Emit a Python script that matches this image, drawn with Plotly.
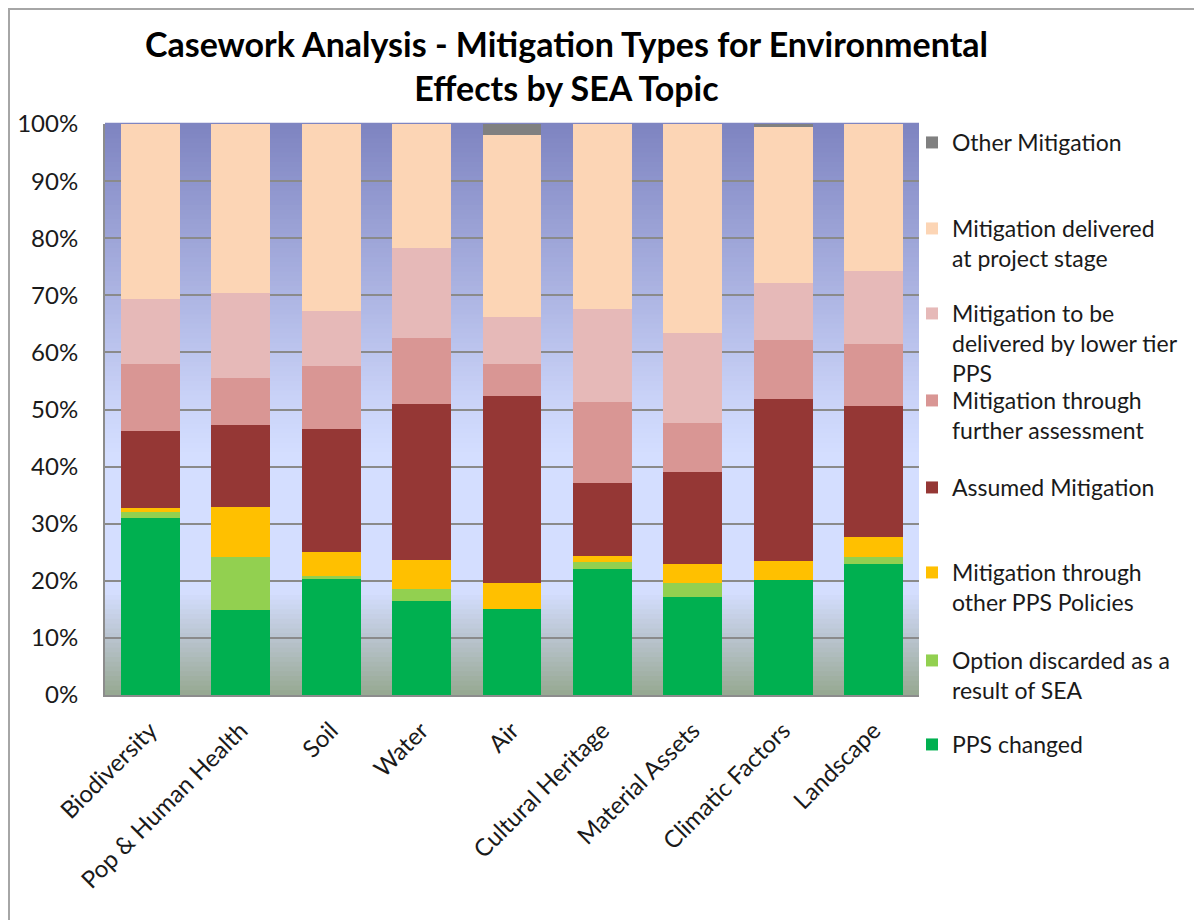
import plotly.graph_objects as go

categories = ["Biodiversity", "Pop & Human Health", "Soil", "Water", "Air",
              "Cultural Heritage", "Material Assets", "Climatic Factors", "Landscape"]

pps_changed        = [31.0, 14.8, 20.3, 16.5, 15.1, 22.0, 17.1, 20.2, 23.0]
option_discarded   = [1.0, 9.3, 0.6, 2.0, 0.0, 1.3, 2.5, 0.0, 1.1]
other_pps_policies = [0.7, 8.9, 4.2, 5.2, 4.5, 1.1, 3.4, 3.2, 3.5]
assumed            = [13.5, 14.2, 21.4, 27.3, 32.8, 12.8, 16.0, 28.4, 23.1]
further_assessment = [11.8, 8.3, 11.1, 11.5, 5.6, 14.2, 8.6, 10.3, 10.7]
lower_tier         = [11.4, 14.9, 9.6, 15.8, 8.2, 16.2, 15.8, 10.0, 12.8]
project_stage      = [30.6, 29.6, 32.8, 21.7, 31.8, 32.4, 36.6, 27.3, 25.8]
other_mitigation   = [0.0, 0.0, 0.0, 0.0, 2.0, 0.0, 0.0, 0.6, 0.0]

series_names = [
    "PPS changed",
    "Option discarded as a<br>result of SEA",
    "Mitigation through<br>other PPS Policies",
    "Assumed Mitigation",
    "Mitigation through<br>further assessment",
    "Mitigation to be<br>delivered by lower tier<br>PPS",
    "Mitigation delivered<br>at project stage",
    "Other Mitigation",
]
series_values = [pps_changed, option_discarded, other_pps_policies, assumed,
                 further_assessment, lower_tier, project_stage, other_mitigation]
series_colors = ["#00B050", "#92D050", "#FFC000", "#953735",
                 "#D99694", "#E6B9B8", "#FCD5B5", "#808080"]
# legend label first-line centre (page pixel y) for each series
legend_pix_y = [744, 660, 572, 487, 400, 313, 228, 142]

OFF = 8  # page body margin offset
W, H = 1202, 920
PL, PR, PT, PB = 105, 919, 124, 695   # plot area in page pixels
ML = PL - OFF
MT = PT - OFF
MR = W - (PR - OFF)
MB = H - (PB - OFF)
plot_w = PR - PL
plot_h = PB - PT

FONT = "Lato, 'Open Sans', 'DejaVu Sans', sans-serif"

def px_to_paper_y(page_y):
    return (PB - page_y) / plot_h

def px_to_paper_x(page_x):
    return (page_x - PL) / plot_w

fig = go.Figure()
for i, (name, vals, col) in enumerate(zip(series_names, series_values, series_colors)):
    lg = "legend" if i == 0 else f"legend{i+1}"
    fig.add_trace(go.Bar(
        x=categories, y=vals, name=name, marker=dict(color=col, line=dict(width=0)),
        legend=lg,
    ))

# background gradient (styling only)
stops = [(0.0, (0x96, 0xA8, 0x90)), (0.10, (0xB9, 0xC4, 0xCF)), (0.18, (0xD4, 0xDE, 0xFF)),
         (0.42, (0xD4, 0xDE, 0xFF)), (0.52, (0xC9, 0xD2, 0xF7)), (1.0, (0x7E, 0x84, 0xC1))]

def grad(t):
    for (a, ca), (b, cb) in zip(stops[:-1], stops[1:]):
        if a <= t <= b:
            f = (t - a) / (b - a)
            return "rgb(%d,%d,%d)" % tuple(round(ca[k] + (cb[k] - ca[k]) * f) for k in range(3))
    return "rgb(%d,%d,%d)" % stops[-1][1]

shapes = []
N = 120
for i in range(N):
    y0 = i / N
    y1 = (i + 1) / N
    shapes.append(dict(type="rect", xref="paper", yref="paper", x0=0, x1=1, y0=y0, y1=y1 + 0.002,
                       fillcolor=grad((y0 + y1) / 2), line=dict(width=0), layer="below"))
# outer chart border
shapes.append(dict(type="rect", xref="paper", yref="paper",
                   x0=px_to_paper_x(OFF + 1), x1=px_to_paper_x(W + 40),
                   y0=px_to_paper_y(H + 40), y1=px_to_paper_y(OFF + 1),
                   line=dict(color="#A6A6A6", width=2), fillcolor="rgba(0,0,0,0)", layer="below"))

layout_legends = {}
for i, py in enumerate(legend_pix_y):
    key = "legend" if i == 0 else f"legend{i+1}"
    layout_legends[key] = dict(
        x=px_to_paper_x(952 - 40), xanchor="left",
        y=px_to_paper_y(py - 21), yanchor="top",
        bgcolor="rgba(0,0,0,0)", borderwidth=0,
        font=dict(family=FONT, size=23, color="#1a1a1a"),
        valign="top", itemclick=False,
    )

fig.update_layout(
    width=W, height=H,
    margin=dict(l=ML, r=MR, t=MT, b=MB, autoexpand=False),
    paper_bgcolor="white", plot_bgcolor="rgba(0,0,0,0)",
    barmode="stack", bargap=0.35,
    title=dict(text="Casework Analysis - Mitigation Types for Environmental<br>Effects by SEA Topic",
               x=(566.5 - OFF) / W, xanchor="center", xref="container",
               y=1 - (56.5 - OFF) / H, yanchor="middle", yref="container",
               font=dict(family=FONT, size=34, color="black", weight="bold")),
    showlegend=True,
    shapes=shapes,
    xaxis=dict(tickangle=-45, tickfont=dict(family=FONT, size=24, color="#1a1a1a"),
               showline=True, linecolor="#8C8C8C", linewidth=2, showgrid=False,
               ticks="", ticklabelstandoff=10),
    yaxis=dict(range=[0, 100], dtick=10, ticksuffix="%", showgrid=True,
               gridcolor="#8A8A8A", gridwidth=2, showline=True, linecolor="#8C8C8C",
               linewidth=2, zeroline=False, ticks="", ticklabelstandoff=20,
               tickfont=dict(family=FONT, size=24, color="#1a1a1a")),
    **layout_legends,
)

fig.write_html("out.html")
